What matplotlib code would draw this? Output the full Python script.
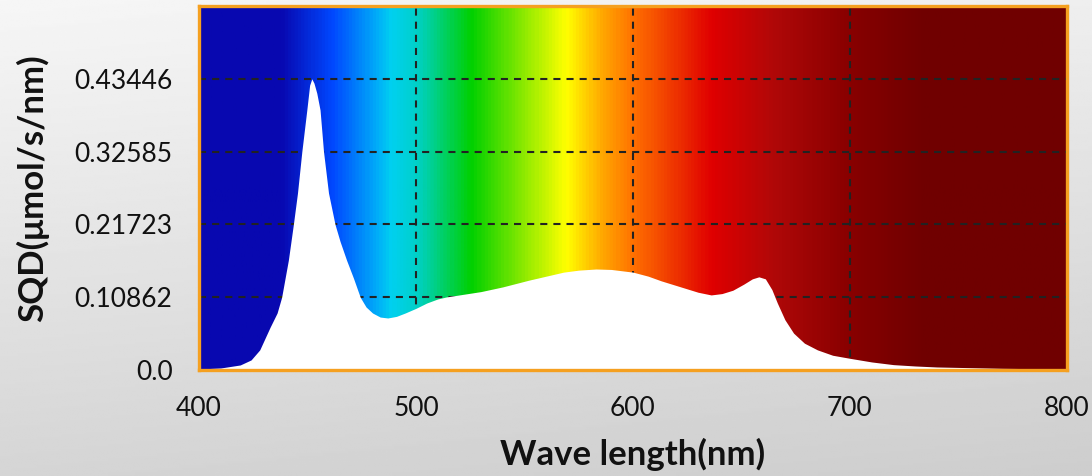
import numpy as np
import matplotlib.pyplot as plt
from matplotlib.colors import LinearSegmentedColormap

# spectrum (nm, umol/s/nm)
wavelength = [400, 410, 419, 424, 428, 432.8, 436, 438.1, 441.2, 443.5, 445.4, 447.4,
              449.7, 451, 452, 453, 454.3, 455.8, 457.4, 459.7, 462.7, 465, 468, 471.2,
              474.3, 477, 480, 483.5, 487, 491, 495, 500, 505, 510, 514, 520, 530, 540,
              552, 560, 568, 575, 583, 590, 600, 607, 613, 620, 625, 630, 636, 641, 646,
              651, 655, 658, 661, 664, 666.5, 670, 674, 679, 685, 692, 700, 710, 720, 730,
              740, 755, 770, 785, 800]
sqd = [0.0015, 0.003, 0.0075, 0.015, 0.030, 0.064, 0.085, 0.1086, 0.164, 0.2172, 0.264, 0.3258,
       0.388, 0.425, 0.4345, 0.428, 0.413, 0.388, 0.3258, 0.264, 0.2172, 0.192, 0.164, 0.137,
       0.1086, 0.094, 0.085, 0.079, 0.0776, 0.080, 0.085, 0.092, 0.100, 0.106, 0.109, 0.112, 0.117, 0.124,
       0.134, 0.140, 0.146, 0.149, 0.1507, 0.150, 0.146, 0.140, 0.133, 0.126, 0.121, 0.116, 0.112, 0.114, 0.119,
       0.128, 0.136, 0.139, 0.136, 0.120, 0.100, 0.075, 0.055, 0.040, 0.030, 0.022, 0.0174, 0.012, 0.008, 0.006,
       0.0045, 0.0035, 0.0025, 0.002, 0.0015]

y_ticks = [0.0, 0.10862, 0.21723, 0.32585, 0.43446]
y_labels = ['0.0', '0.10862', '0.21723', '0.32585', '0.43446']
x_ticks = [400, 500, 600, 700, 800]
x_grid = [500, 600, 700]
y_max = 0.5431

# colour stops of the rainbow backdrop (nm, colour)
stop_nm = [400, 437, 461, 482, 488, 500, 525, 569, 585, 600, 636, 665, 700, 734, 800]
stop_col = ['#0808b0', '#0808b0', '#0048ff', '#00b0f8', '#00d0f0', '#00d0c8', '#00d000',
            '#ffff00', '#ffaa00', '#ff7000', '#e00000', '#b00808', '#880000', '#700000', '#700000']

plt.rcParams['font.family'] = ['Lato', 'DejaVu Sans']

fig = plt.figure(figsize=(10.92, 4.76), dpi=100)

# grey backdrop
bg = fig.add_axes([0, 0, 1, 1], zorder=-10)
yy, xx = np.mgrid[0:1:200j, 0:1:400j]
shade = 0.965 - 0.13 * yy - 0.03 * xx
bg.imshow(shade, cmap='gray', vmin=0, vmax=1, aspect='auto', extent=[0, 1, 0, 1], origin='upper')
bg.axis('off')

ax = fig.add_axes([0.1822, 0.2227, 0.7949, 0.7647])

pos = [(n - 400) / 400 for n in stop_nm]
cmap = LinearSegmentedColormap.from_list('spec', list(zip(pos, stop_col)))
grad = np.linspace(0, 1, 800).reshape(1, -1)
ax.imshow(grad, cmap=cmap, aspect='auto', extent=[400, 800, 0, y_max], zorder=0)

dash = (0, (3.4, 2.9))
ax.hlines(y_ticks[1:], 400, 800, colors='#222222', linewidth=1.5, linestyles=dash, zorder=1)
ax.vlines(x_grid, 0, y_max, colors='#222222', linewidth=1.5, linestyles=dash, zorder=1)

ax.fill_between(wavelength, sqd, 0, color='white', linewidth=0, zorder=2)

ax.set_xlim(400, 800)
ax.set_ylim(0, y_max)
ax.set_xticks(x_ticks)
ax.set_yticks(y_ticks)
ax.set_yticklabels(y_labels)
ax.tick_params(axis='both', length=0, labelsize=19, colors='#111111')
ax.tick_params(axis='y', pad=19)
ax.tick_params(axis='x', pad=19)

for s in ax.spines.values():
    s.set_color('#f5a020')
    s.set_linewidth(2.4)
    s.set_zorder(5)

ax.set_xlabel('Wave length(nm)', fontsize=25, fontweight='bold', color='#111111', labelpad=12)
ax.set_ylabel('SQD(μmol/s/nm)', fontsize=25, fontweight='bold', color='#111111', labelpad=18)

fig.savefig('out.png', dpi=100)
